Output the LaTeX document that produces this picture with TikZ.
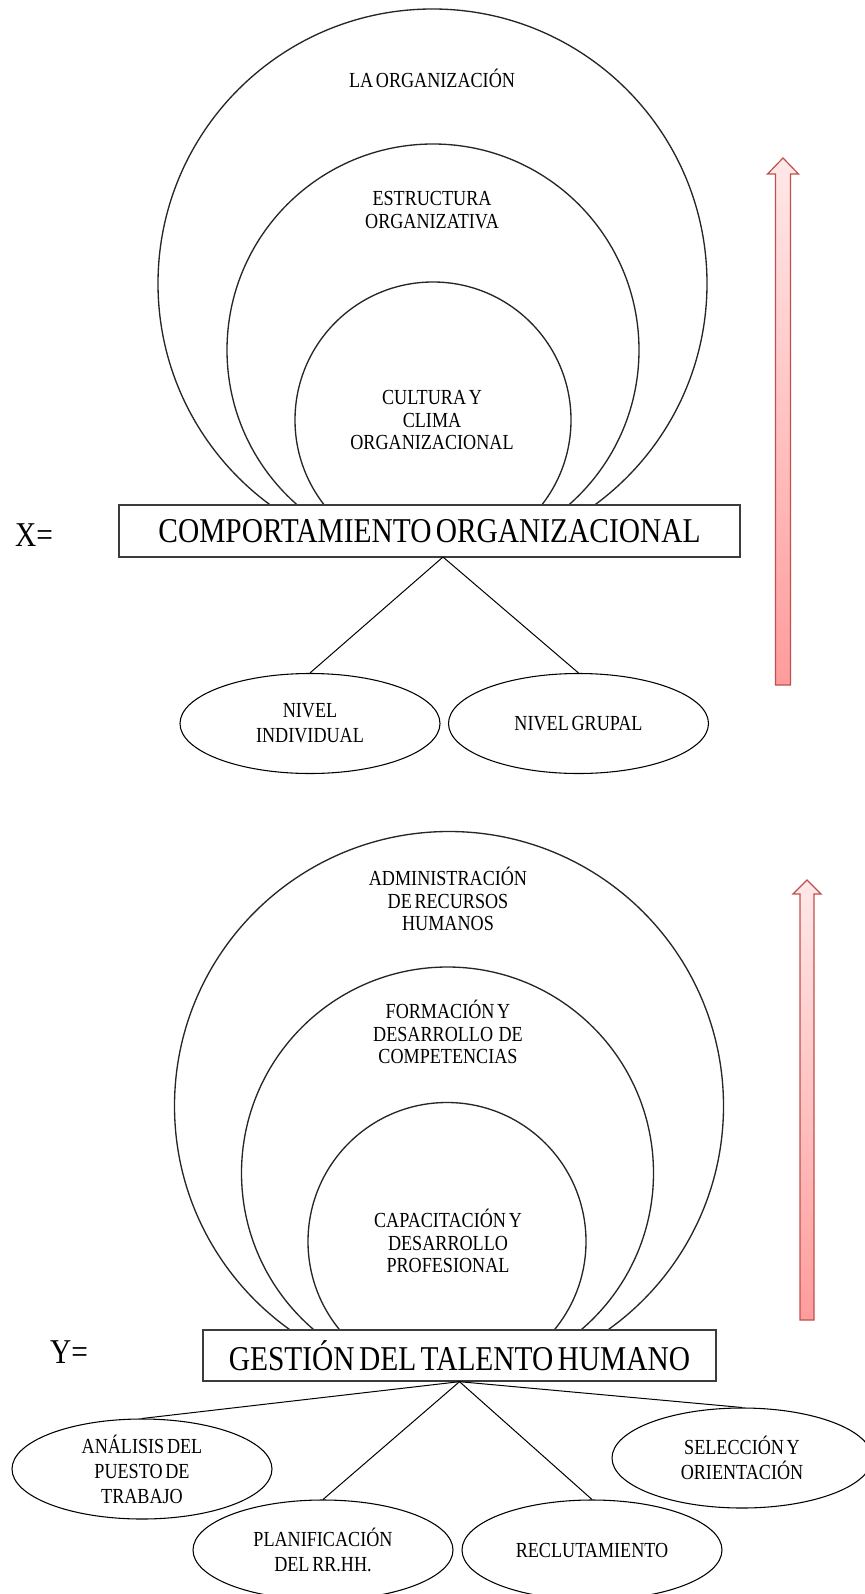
\documentclass[tikz,border=0pt]{standalone}
\usepackage{fontspec}
\setmainfont{Liberation Serif}[FakeStretch=0.845, WordSpace=0.6]
\usetikzlibrary{shapes.geometric}

\definecolor{arrowedge}{RGB}{192,80,77}
\definecolor{arrowtop}{RGB}{255,232,232}
\definecolor{arrowbot}{RGB}{255,156,156}
\definecolor{boxedge}{RGB}{60,60,60}

\newcommand\cirfont{\fontsize{16.1}{16.9}\selectfont}
\newcommand\ovlfont{\fontsize{16.1}{18.75}\selectfont}
\newcommand\ttlfont{\fontsize{26.1}{28}\selectfont}

\tikzset{
  ring/.style={draw=black!85, line width=1pt},
  ringtext/.style={align=center, font=\cirfont, inner sep=0pt},
  titlebox/.style={rectangle, draw=boxedge, line width=1pt, fill=white,
    font=\ttlfont, inner sep=0pt},
  varlabel/.style={font=\ttlfont, inner sep=0pt},
  oval/.style={ellipse, draw=black, line width=0.8pt, fill=white,
    minimum width=195pt, minimum height=75pt, inner sep=0pt,
    align=center, font=\ovlfont},
  branch/.style={draw=black, line width=0.75pt},
  bigarrow/.style={draw=arrowedge, line width=0.9pt, line join=miter,
    top color=arrowtop, bottom color=arrowbot}
}

\begin{document}
\begin{tikzpicture}[x=0.75pt, y=-0.75pt]
\useasboundingbox (0,0) rectangle (864,1594);

% ---------------- X: comportamiento organizacional ----------------
\begin{scope}
  \clip (0,0) rectangle (864,505);
  \draw[ring] (432.5,283.5) circle [radius=205.875pt];
  \draw[ring] (433,350) circle [radius=154.5pt];
  \draw[ring] (433,420) circle [radius=103.5pt];
\end{scope}

\node[ringtext] (org) at (432,78) {LA ORGANIZACIÓN};
\node[ringtext] (est) at (432,210) {ESTRUCTURA\\ORGANIZATIVA};
\node[ringtext] (cul) at (432,420) {CULTURA Y\\CLIMA\\ORGANIZACIONAL};

\node[titlebox, minimum width=465.75pt, minimum height=39pt] (cbox) at (429.5,531)
  {COMPORTAMIENTO ORGANIZACIONAL};
\node[varlabel] (xlab) at (34,535) {X=};

\coordinate (xa) at (443,557);
\node[oval] (ind) at (310,723.5) {NIVEL\\INDIVIDUAL};
\node[oval] (grp) at (578.5,723.5) {NIVEL GRUPAL};
\draw[branch] (xa) -- (ind.north);
\draw[branch] (xa) -- (grp.north);

% upward arrow beside the X diagram
\path[bigarrow] (775.5,685) -- (775.5,174) -- (767.5,174) -- (783,158)
  -- (798.5,174) -- (790.5,174) -- (790.5,685) -- cycle;

% ---------------- Y: gestión del talento humano ----------------
\begin{scope}
  \clip (0,700) rectangle (864,1330);
  \draw[ring] (449,1106) circle [radius=205.875pt];
  \draw[ring] (447.5,1173) circle [radius=154.5pt];
  \draw[ring] (447,1241.5) circle [radius=104.25pt];
\end{scope}

\node[ringtext] (adm) at (448,899) {ADMINISTRACIÓN\\DE RECURSOS\\HUMANOS};
\node[ringtext] (for) at (448,1032) {FORMACIÓN Y\\DESARROLLO~~DE\\COMPETENCIAS};
\node[ringtext] (cap) at (448,1241) {CAPACITACIÓN Y\\DESARROLLO\\PROFESIONAL};

\node[titlebox, minimum width=384.75pt, minimum height=38.25pt] (gbox) at (459.5,1355.5)
  {GESTIÓN DEL TALENTO HUMANO};
\node[varlabel] (ylab) at (69,1352) {Y=};

\node[oval] (ana) at (142,1469) {ANÁLISIS DEL\\PUESTO DE\\TRABAJO};
\node[oval] (pla) at (323,1550) {PLANIFICACIÓN\\DEL RR.HH.};
\node[oval] (rec) at (592,1550) {RECLUTAMIENTO};
\node[oval] (sel) at (742,1458) {SELECCIÓN Y\\ORIENTACIÓN};
\draw[branch] (gbox.south) -- (ana.north);
\draw[branch] (gbox.south) -- (pla.north);
\draw[branch] (gbox.south) -- (rec.north);
\draw[branch] (gbox.south) -- (sel.north);

% upward arrow beside the Y diagram
\path[bigarrow] (800,1320) -- (800,894) -- (793,894) -- (807,880)
  -- (821,894) -- (814,894) -- (814,1320) -- cycle;

\end{tikzpicture}
\end{document}
